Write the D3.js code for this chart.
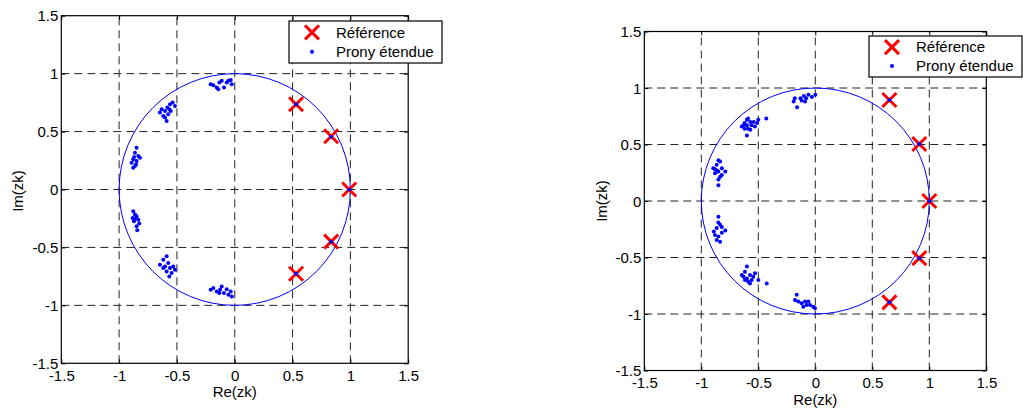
<!DOCTYPE html>
<html>
<head>
<meta charset="utf-8">
<script src="https://cdn.jsdelivr.net/npm/d3@7"></script>
<style>
  html, body { margin: 0; padding: 0; background: #fff; }
  svg { display: block; }
  text { font-family: "Liberation Sans", Arial, sans-serif; fill: #000; }
</style>
</head>
<body>
<svg id="chart" width="1023" height="410"></svg>
<script>
// ---------- data ----------
const tickValues = [-1.5, -1, -0.5, 0, 0.5, 1, 1.5];
const tickLabels = ["-1.5", "-1", "-0.5", "0", "0.5", "1", "1.5"];
const gridValues = [-1, -0.5, 0, 0.5, 1];
const legendLabels = ["Référence", "Prony étendue"];
const xLabel = "Re(zk)";
const yLabel = "Im(zk)";

// left panel
const refLeft = [[0.53, 0.736], [0.834, 0.46], [0.99, 0], [0.834, -0.45], [0.53, -0.727]];
const pronyLeft = [
  [0.53, 0.736], [0.834, 0.455], [0.99, 0], [0.834, -0.45], [0.53, -0.727],
  [-0.208, 0.909], [-0.185, 0.90], [-0.156, 0.88], [-0.133, 0.924], [-0.113, 0.938], [-0.093, 0.88],
  [-0.069, 0.924], [-0.035, 0.946], [-0.026, 0.909], [-0.055, 0.938], [-0.142, 0.866],
  [-0.647, 0.664], [-0.632, 0.693], [-0.618, 0.635], [-0.603, 0.678], [-0.589, 0.591], [-0.583, 0.707],
  [-0.575, 0.649], [-0.56, 0.736], [-0.554, 0.678], [-0.537, 0.751], [-0.517, 0.721], [-0.603, 0.621], [-0.566, 0.693],
  [-0.849, 0.361], [-0.863, 0.318], [-0.834, 0.289], [-0.878, 0.26], [-0.892, 0.231], [-0.863, 0.202],
  [-0.849, 0.245], [-0.82, 0.274], [-0.878, 0.188], [-0.854, 0.216], [-0.87, 0.28],
  [-0.878, -0.188], [-0.863, -0.216], [-0.883, -0.245], [-0.849, -0.231], [-0.834, -0.26], [-0.872, -0.274],
  [-0.826, -0.294], [-0.849, -0.318], [-0.843, -0.352], [-0.863, -0.254],
  [-0.589, -0.577], [-0.618, -0.606], [-0.647, -0.649], [-0.603, -0.664], [-0.575, -0.635], [-0.56, -0.678],
  [-0.589, -0.707], [-0.546, -0.721], [-0.517, -0.693], [-0.618, -0.678], [-0.566, -0.75], [-0.532, -0.664],
  [-0.208, -0.866], [-0.185, -0.851], [-0.156, -0.88], [-0.127, -0.866], [-0.113, -0.837], [-0.093, -0.894],
  [-0.069, -0.86], [-0.055, -0.909], [-0.035, -0.88], [-0.026, -0.924], [-0.133, -0.894]
];

// right panel
const refRight = [[0.65, 0.894], [0.912, 0.504], [1.0, 0], [0.912, -0.506], [0.65, -0.897]];
const pronyRight = [
  [0.65, 0.894], [0.912, 0.504], [1.0, 0], [0.912, -0.506], [0.65, -0.897],
  [-0.19, 0.88], [-0.16, 0.83], [-0.18, 0.91], [-0.13, 0.91], [-0.10, 0.93], [-0.08, 0.91],
  [-0.06, 0.94], [-0.03, 0.92], [0.0, 0.94], [-0.12, 0.89], [-0.09, 0.88],
  [-0.645, 0.66], [-0.62, 0.69], [-0.60, 0.72], [-0.59, 0.73], [-0.57, 0.70], [-0.56, 0.67], [-0.59, 0.64],
  [-0.60, 0.58], [-0.53, 0.66], [-0.50, 0.72], [-0.43, 0.73], [-0.63, 0.67], [-0.54, 0.70], [-0.51, 0.69],
  [-0.57, 0.63], [-0.62, 0.64], [-0.60, 0.67],
  [-0.85, 0.36], [-0.835, 0.35], [-0.895, 0.29], [-0.865, 0.27], [-0.88, 0.245], [-0.85, 0.26], [-0.82, 0.29],
  [-0.79, 0.26], [-0.835, 0.215], [-0.85, 0.19], [-0.85, 0.14], [-0.865, 0.32], [-0.82, 0.23], [-0.88, 0.28],
  [-0.85, -0.14], [-0.835, -0.21], [-0.865, -0.24], [-0.89, -0.27], [-0.88, -0.30], [-0.85, -0.315],
  [-0.82, -0.23], [-0.79, -0.26], [-0.865, -0.345], [-0.835, -0.36], [-0.85, -0.19], [-0.82, -0.28],
  [-0.60, -0.58], [-0.617, -0.625], [-0.645, -0.655], [-0.63, -0.67], [-0.60, -0.685], [-0.573, -0.655],
  [-0.588, -0.714], [-0.573, -0.73], [-0.544, -0.67], [-0.529, -0.64], [-0.50, -0.70], [-0.426, -0.73],
  [-0.617, -0.70], [-0.558, -0.70],
  [-0.163, -0.83], [-0.178, -0.876], [-0.149, -0.89], [-0.12, -0.905], [-0.105, -0.935], [-0.076, -0.92],
  [-0.09, -0.89], [-0.061, -0.89], [-0.046, -0.92], [-0.018, -0.935], [-0.003, -0.95]
];

// ---------- layout ----------
const panels = [
  { ref: refLeft, prony: pronyLeft, x0: 61.3, x1: 408.2, y0: 363.3, y1: 15.7,
    legend: { x: 289, y: 21, w: 153, h: 42 }, xTickY: 376, xLabY: 392, yLabX: 18, yLabY: 191 },
  { ref: refRight, prony: pronyRight, x0: 644.3, x1: 986.3, y0: 370.5, y1: 31.5,
    legend: { x: 869, y: 36, w: 153, h: 41 }, xTickY: 383, xLabY: 400, yLabX: 602, yLabY: 201 }
];

const svg = d3.select("#chart");

function crossPath(cx, cy, s) {
  return `M${cx - s},${cy - s}L${cx + s},${cy + s}M${cx - s},${cy + s}L${cx + s},${cy - s}`;
}

panels.forEach(p => {
  const x = d3.scaleLinear().domain([-1.5, 1.5]).range([p.x0, p.x1]);
  const y = d3.scaleLinear().domain([-1.5, 1.5]).range([p.y0, p.y1]);
  const g = svg.append("g");

  // white axes background
  g.append("rect").attr("x", x(-1.5)).attr("y", y(1.5))
    .attr("width", x(1.5) - x(-1.5)).attr("height", y(-1.5) - y(1.5)).attr("fill", "#fff");

  // grid
  g.selectAll(".gx").data(gridValues).enter().append("line")
    .attr("x1", d => x(d)).attr("x2", d => x(d)).attr("y1", y(-1.5)).attr("y2", y(1.5))
    .attr("stroke", "#222").attr("stroke-width", 1).attr("stroke-dasharray", "8,5");
  g.selectAll(".gy").data(gridValues).enter().append("line")
    .attr("y1", d => y(d)).attr("y2", d => y(d)).attr("x1", x(-1.5)).attr("x2", x(1.5))
    .attr("stroke", "#222").attr("stroke-width", 1).attr("stroke-dasharray", "8,5");

  // axes via d3 axis (ticks inward)
  const xAxis = d3.axisBottom(x).tickValues(tickValues).tickSize(-4).tickFormat((d, i) => tickLabels[i]);
  const yAxis = d3.axisLeft(y).tickValues(tickValues).tickSize(-4).tickFormat((d, i) => tickLabels[i]);
  const xa = g.append("g").attr("transform", `translate(0,${y(-1.5)})`).call(xAxis);
  xa.select(".domain").remove();
  xa.selectAll("line").attr("stroke", "#000");
  xa.selectAll("text").attr("font-size", 15).attr("font-family", "Liberation Sans, Arial, sans-serif")
    .attr("y", p.xTickY - y(-1.5)).attr("dy", "0.35em");
  const ya = g.append("g").attr("transform", `translate(${x(-1.5)},0)`).call(yAxis);
  ya.select(".domain").remove();
  ya.selectAll("line").attr("stroke", "#000");
  ya.selectAll("text").attr("font-size", 15).attr("font-family", "Liberation Sans, Arial, sans-serif")
    .attr("x", -3).attr("dy", "0.35em");
  // mirrored ticks top/right
  g.append("g").attr("transform", `translate(0,${y(1.5)})`)
    .call(d3.axisTop(x).tickValues(tickValues).tickSize(-4).tickFormat(""))
    .call(s => s.select(".domain").remove());
  g.append("g").attr("transform", `translate(${x(1.5)},0)`)
    .call(d3.axisRight(y).tickValues(tickValues).tickSize(-4).tickFormat(""))
    .call(s => s.select(".domain").remove());

  // box
  g.append("rect").attr("x", x(-1.5)).attr("y", y(1.5))
    .attr("width", x(1.5) - x(-1.5)).attr("height", y(-1.5) - y(1.5))
    .attr("fill", "none").attr("stroke", "#000").attr("stroke-width", 1.2);

  // unit circle
  g.append("ellipse").attr("cx", x(0)).attr("cy", y(0))
    .attr("rx", x(1) - x(0)).attr("ry", y(0) - y(1))
    .attr("fill", "none").attr("stroke", "#0000ff").attr("stroke-width", 1);

  // reference crosses
  g.selectAll(".ref").data(p.ref).enter().append("path")
    .attr("d", d => crossPath(x(d[0]), y(d[1]), 7))
    .attr("stroke", "#ff0000").attr("stroke-width", 3).attr("fill", "none");

  // prony points
  g.selectAll(".pr").data(p.prony).enter().append("circle")
    .attr("cx", d => x(d[0])).attr("cy", d => y(d[1])).attr("r", 2)
    .attr("fill", "#0000ff");

  // axis labels
  g.append("text").attr("x", x(0)).attr("y", p.xLabY).attr("dy", "0.35em")
    .attr("text-anchor", "middle").attr("font-size", 15).text(xLabel);
  g.append("text").attr("transform", `translate(${p.yLabX},${p.yLabY}) rotate(-90)`)
    .attr("dy", "0.35em").attr("text-anchor", "middle").attr("font-size", 15).text(yLabel);

  // legend
  const L = p.legend;
  const lg = svg.append("g");
  lg.append("rect").attr("x", L.x).attr("y", L.y).attr("width", L.w).attr("height", L.h)
    .attr("fill", "#fff").attr("stroke", "#000").attr("stroke-width", 1.2);
  const r1 = L.y + L.h * 0.27, r2 = L.y + L.h * 0.73;
  lg.append("path").attr("d", crossPath(L.x + 23, r1, 7))
    .attr("stroke", "#ff0000").attr("stroke-width", 3).attr("fill", "none");
  lg.append("circle").attr("cx", L.x + 23).attr("cy", r2).attr("r", 2).attr("fill", "#0000ff");
  lg.append("text").attr("x", L.x + 47).attr("y", r1).attr("dy", "0.35em")
    .attr("font-size", 15).text(legendLabels[0]);
  lg.append("text").attr("x", L.x + 47).attr("y", r2).attr("dy", "0.35em")
    .attr("font-size", 15).text(legendLabels[1]);
});
</script>
</body>
</html>
